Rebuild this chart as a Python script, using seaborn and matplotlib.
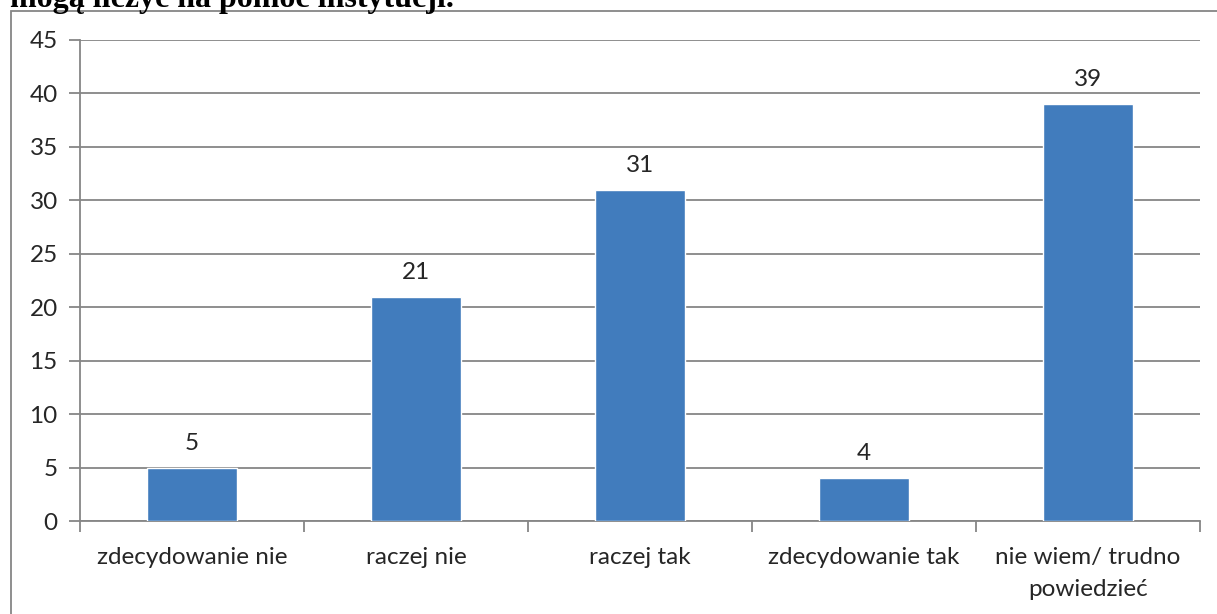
"""Wykres słupkowy odpowiedzi na pytanie o pomoc instytucji."""

import matplotlib

matplotlib.use("Agg")

import matplotlib.pyplot as plt
import pandas as pd
import seaborn as sns
from matplotlib.patches import Rectangle
from matplotlib.ticker import FixedLocator, MultipleLocator

TITLE = "mogą liczyć na pomoc instytucji."
CATEGORIES = [
    "zdecydowanie nie",
    "raczej nie",
    "raczej tak",
    "zdecydowanie tak",
    "nie wiem/ trudno\npowiedzieć",
]
VALUES = [5, 21, 31, 4, 39]

BAR_COLOR = "#417CBD"
AXIS_COLOR = "#868686"
TEXT_COLOR = "#262626"
FONT_SIZE = 17.5

sns.set_theme(style="white")
plt.rcParams["font.family"] = ["Lato", "DejaVu Sans"]

frame = pd.DataFrame({"odpowiedz": CATEGORIES, "liczba": VALUES})

W, H = 1217, 614
fig = plt.figure(figsize=(W / 100, H / 100), dpi=100)
ax = fig.add_axes([80 / W, 1 - 521 / H, 1120 / W, 481 / H])

sns.barplot(frame, x="odpowiedz", y="liczba", color=BAR_COLOR, width=0.4,
            saturation=1, ax=ax, zorder=3)

for i, v in enumerate(VALUES):
    ax.annotate(str(v), (i, v), xytext=(0, 10), textcoords="offset points",
                ha="center", va="bottom", fontsize=FONT_SIZE, color=TEXT_COLOR)

ax.set_xlim(-0.5, len(CATEGORIES) - 0.5)
ax.set_ylim(0, 45)
ax.yaxis.set_major_locator(MultipleLocator(5))
ax.grid(axis="y", color=AXIS_COLOR, linewidth=1.3, zorder=0)
ax.set_axisbelow(True)
ax.set_xlabel("")
ax.set_ylabel("")

for side in ("top", "right"):
    ax.spines[side].set_visible(False)
for side in ("left", "bottom"):
    ax.spines[side].set_color(AXIS_COLOR)
    ax.spines[side].set_linewidth(1.3)

ax.xaxis.set_minor_locator(FixedLocator([x - 0.5 for x in range(len(CATEGORIES) + 1)]))
ax.tick_params(axis="x", which="major", length=0, pad=19, labelsize=FONT_SIZE,
               labelcolor=TEXT_COLOR)
ax.tick_params(axis="x", which="minor", length=8, width=1.3, color=AXIS_COLOR,
               direction="out", bottom=True)
ax.tick_params(axis="y", length=8, width=1.3, color=AXIS_COLOR, direction="out",
               left=True, pad=8, labelsize=FONT_SIZE, labelcolor=TEXT_COLOR)
for label in ax.get_xticklabels():
    label.set_linespacing(1.65)

# ramka wykresu, ucięta z prawej i z dołu
fig.patches.append(Rectangle((11 / W, -0.2), 1.2, 1.2 - 11 / H,
                             transform=fig.transFigure, fill=False,
                             edgecolor=AXIS_COLOR, linewidth=1.3))

# tytuł ucięty przy górnej krawędzi, jak w oryginale
fig.text(10 / W, 1 - 7 / H, TITLE, ha="left", va="baseline", fontsize=23,
         fontweight="bold", family=["Liberation Serif", "DejaVu Serif"],
         color="black")

fig.savefig("out.png", dpi=100)
